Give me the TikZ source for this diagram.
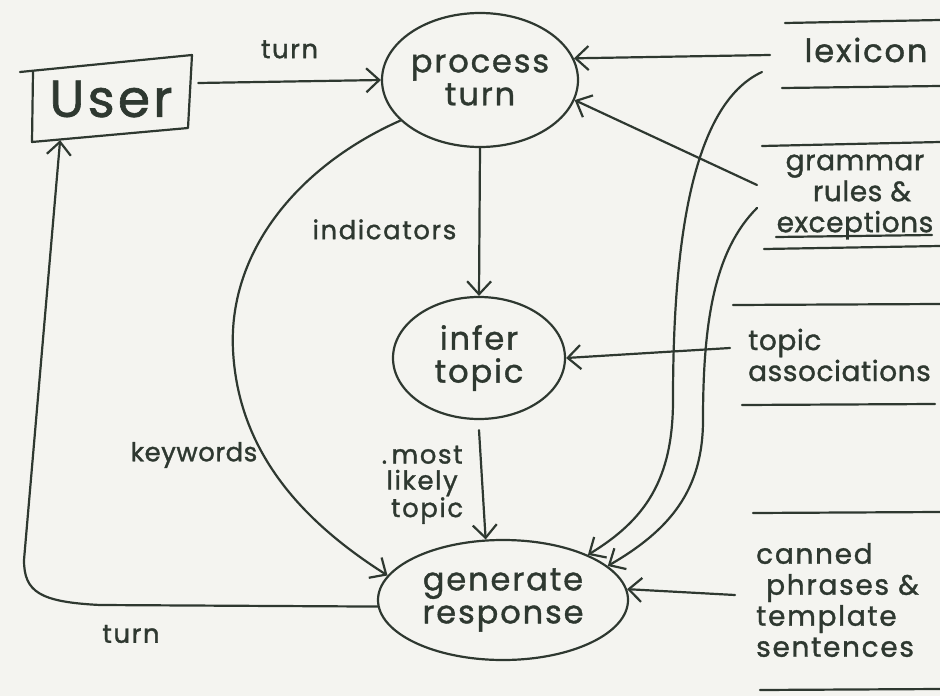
\documentclass[tikz,border=0pt]{standalone}
\usepackage{fontspec}
\usetikzlibrary{arrows.meta,shapes.geometric}
\newfontfamily\hand[LetterSpace=6,FakeBold=1.2]{Poppins}
\newfontfamily\handnarrow[LetterSpace=2,FakeBold=1.2]{Poppins}
\definecolor{ink}{HTML}{2E3830}
\definecolor{paper}{HTML}{F4F4F0}
\newcommand{\fs}[1]{\fontsize{#1}{#1}\selectfont}
\begin{document}
\begin{tikzpicture}[x=1pt,y=-1pt,
  ink line/.style={draw=ink, line width=2.2pt, line cap=round, line join=round},
  flow/.style={ink line, -{Straight Barb[length=13pt,width=24pt]}},
  process/.style={ellipse, draw=ink, line width=2.2pt, inner sep=0pt, text=ink, align=center, font=\hand\fontsize{32}{33}\selectfont},
  entity/.style={rectangle, inner sep=0pt, text=ink, font=\hand\fs{52}},
  store/.style={text=ink, inner sep=0pt, font=\handnarrow\fontsize{28}{31}\selectfont},
  flowlabel/.style={text=ink, inner sep=0pt, font=\hand\fs{26}},
  storeline/.style={ink line}
]
% page
\fill[paper] (0,0) rectangle (940,696);
\useasboundingbox (0,0) rectangle (940,696);

% external entity
\node[entity, minimum width=160pt, minimum height=82pt] (user) at (111,99) {User};
\draw[ink line] (20,72) -- (192,55) -- (188,128) -- (32,142) -- (33,72);

% processes
\node[process, minimum width=196pt, minimum height=134pt] (proc) at (480,80) {process\\turn};
\node[process, minimum width=172pt, minimum height=122pt] (infer) at (479,358) {infer\\topic};
\node[process, minimum width=250pt, minimum height=120pt] (gen) at (503,600) {generate\\response};

% data stores
\node[store, font=\hand\fs{32}] (lex) at (866,50) {lexicon};
\draw[storeline] (785,23) -- (940,20);
\draw[storeline] (782,88) -- (940,86);

\node[store, align=center] (gram) at (855,197) {grammar\\\hspace*{14pt}rules \&\\exceptions};
\draw[storeline] (762,146) -- (940,142);
\draw[storeline] (776,237) -- (932,235);
\draw[storeline] (764,249) -- (940,246);

\node[store, align=left, anchor=west] (topic) at (748,355) {topic\\associations};
\draw[storeline] (733,305) -- (940,304);
\draw[storeline] (742,405) -- (935,404);

\node[store, align=left, anchor=west, font=\hand\fontsize{28}{31}\selectfont] (canned) at (756,600) {canned\\\hspace*{10pt}phrases \&\\template\\sentences};
\draw[storeline] (753,513) -- (940,512);
\draw[storeline] (760,690) -- (940,689);

% flows between entity and processes
\draw[flow] ([shift={(7,-16)}]user.east) -- (proc.west)
  node[flowlabel, midway, above=22pt] (turnin) {turn};
\draw[flow] (proc.south) -- (infer.north)
  node[flowlabel, pos=0.55, left=22pt] (ind) {indicators};
\draw[flow] ([yshift=-10pt]infer.south) -- (gen.106)
  node[flowlabel, midway, left=18pt, align=center] (likely) {.\,most\\likely\\\hspace*{10pt}topic};
\draw[flow] (proc.207) .. controls (300,165) and (228,250) .. (233,350)
  .. controls (238,450) and (300,520) .. (gen.168);
\node[flowlabel, font=\handnarrow\fs{26}] (kw) at (194,455) {keywords};
\draw[flow] (gen.183) -- (100,605) .. controls (40,602) and (24,592) .. (24,560) -- (user.219);
\node[flowlabel] (turnout) at (131,634) {turn};

% flows from data stores
\coordinate (lexA) at (770,55);
\coordinate (lexB) at (762,72);
\coordinate (gramA) at (757,185);
\coordinate (gramB) at (757,208);
\coordinate (topA) at (730,348);
\coordinate (canA) at (735,595);
\draw[flow] (lexA) -- (proc.13);
\draw[flow] (gramA) -- (proc.-12);
\draw[flow] (lexB) .. controls (690,105) and (673,250) .. (673,400)
  .. controls (673,480) and (645,520) .. (gen.28);
\draw[flow] (gramB) .. controls (715,250) and (703,320) .. (703,420)
  .. controls (703,490) and (670,530) .. (gen.18);
\draw[flow] (topA) -- (infer.east);
\draw[flow] (canA) -- (gen.5);
\end{tikzpicture}
\end{document}
